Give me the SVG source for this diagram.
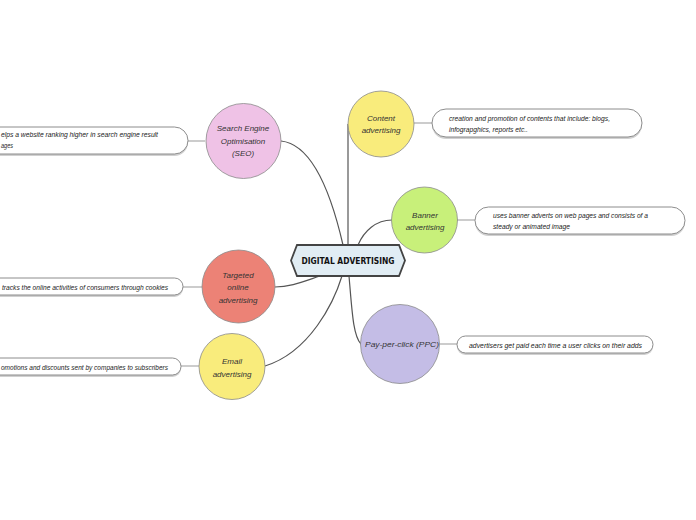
<svg xmlns="http://www.w3.org/2000/svg" width="696" height="520" viewBox="0 0 696 520">
<style>
.bg{fill:#ffffff}
.conn{fill:none;stroke:#555555;stroke-width:1.2}
.sub{fill:none;stroke:#bbbbbb;stroke-width:1.5}
.circ{stroke:#8a8a8a;stroke-width:0.8}
.pill{fill:#ffffff;stroke:#808080;stroke-width:0.9}
.shadow{fill:#d0d0d0}
.lbl{font-family:"Liberation Sans",Arial,sans-serif;font-style:italic;font-size:8px;fill:#333333;text-anchor:middle}
.desc{font-family:"Liberation Sans",Arial,sans-serif;font-style:italic;font-size:7px;fill:#222222}
.title{font-family:"DejaVu Sans","Liberation Sans",sans-serif;font-weight:bold;font-size:8px;fill:#111111;text-anchor:middle}
</style>
<rect class="bg" x="0" y="0" width="696" height="520"/>
<g id="connectors">
<path class="conn" d="M343 245 Q320 145 281 141"/>
<path class="conn" d="M348 245 L348 124"/>
<path class="conn" d="M358 245 C364 231 376 220 392 220"/>
<path class="conn" d="M320 276 C302 282 290 287 275 287"/>
<path class="conn" d="M342 276 C334 302 310 352 265 366"/>
<path class="conn" d="M349 276 C352 310 353 336 361 344"/>
<path class="sub" d="M188 141 L205 141"/>
<path class="sub" d="M414 123 L432 123"/>
<path class="sub" d="M457 220 L475 220"/>
<path class="sub" d="M183 287 L202 287"/>
<path class="sub" d="M440 344 L457 344"/>
<path class="sub" d="M181 366 L199 366"/>
</g>
<g id="center">
<polygon points="291,260.5 297,245 399,245 405,260.5 399,276 297,276" fill="#e1edf4" stroke="#444444" stroke-width="1.8"/>
<text class="title" x="348" y="264" textLength="93" lengthAdjust="spacingAndGlyphs">DIGITAL ADVERTISING</text>
</g>
<g id="seo">
<circle class="circ" cx="243.5" cy="141" r="37.5" fill="#efc2e6"/>
<text class="lbl" x="243" y="131">Search Engine</text>
<text class="lbl" x="243" y="144">Optimisation</text>
<text class="lbl" x="243" y="156">(SEO)</text>
</g>
<g id="seo-desc">
<rect class="shadow" x="-20" y="129" width="208" height="27" rx="13.5"/>
<rect class="pill" x="-20" y="127" width="208" height="27" rx="13.5"/>
<text class="desc" x="1" y="137" textLength="157" lengthAdjust="spacingAndGlyphs">elps a website ranking higher in search engine result</text>
<text class="desc" x="1" y="148" textLength="12" lengthAdjust="spacingAndGlyphs">ages</text>
</g>
<g id="content">
<circle class="circ" cx="381" cy="124" r="33" fill="#f9ec7c"/>
<text class="lbl" x="381" y="121">Content</text>
<text class="lbl" x="381" y="133">advertising</text>
</g>
<g id="content-desc">
<rect class="shadow" x="432" y="111" width="210" height="28" rx="14"/>
<rect class="pill" x="432" y="109" width="210" height="28" rx="14"/>
<text class="desc" x="449" y="120.5" textLength="161" lengthAdjust="spacingAndGlyphs">creation and promotion of contents that include: blogs,</text>
<text class="desc" x="449" y="131.5" textLength="79" lengthAdjust="spacingAndGlyphs">infograpghics, reports etc..</text>
</g>
<g id="banner">
<circle class="circ" cx="424.5" cy="220" r="33" fill="#c8f07a"/>
<text class="lbl" x="425" y="218">Banner</text>
<text class="lbl" x="425" y="230">advertising</text>
</g>
<g id="banner-desc">
<rect class="shadow" x="475" y="209" width="210" height="27" rx="13.5"/>
<rect class="pill" x="475" y="207" width="210" height="27" rx="13.5"/>
<text class="desc" x="493" y="217.5" textLength="155" lengthAdjust="spacingAndGlyphs">uses banner adverts on web pages and consists of a</text>
<text class="desc" x="493" y="228.5" textLength="77" lengthAdjust="spacingAndGlyphs">steady or animated image</text>
</g>
<g id="targeted">
<circle class="circ" cx="238.5" cy="286.5" r="36.5" fill="#ec8276"/>
<text class="lbl" x="238" y="278">Targeted</text>
<text class="lbl" x="238" y="290">online</text>
<text class="lbl" x="238" y="303">advertising</text>
</g>
<g id="targeted-desc">
<rect class="shadow" x="-20" y="280" width="203" height="17" rx="8.5"/>
<rect class="pill" x="-20" y="278" width="203" height="17" rx="8.5"/>
<text class="desc" x="2" y="289.5" textLength="166" lengthAdjust="spacingAndGlyphs">tracks the online activities of consumers through cookies</text>
</g>
<g id="ppc">
<circle class="circ" cx="400" cy="344" r="39.5" fill="#c4bde6"/>
<text class="lbl" x="402" y="347" textLength="74" lengthAdjust="spacingAndGlyphs">Pay-per-click (PPC)</text>
</g>
<g id="ppc-desc">
<rect class="shadow" x="457" y="338" width="196" height="17" rx="8.5"/>
<rect class="pill" x="457" y="336" width="196" height="17" rx="8.5"/>
<text class="desc" x="469" y="347.5" textLength="173" lengthAdjust="spacingAndGlyphs">advertisers get paid each time a user clicks on their adds</text>
</g>
<g id="email">
<circle class="circ" cx="232" cy="366.5" r="33" fill="#f9ec7c"/>
<text class="lbl" x="232" y="364">Email</text>
<text class="lbl" x="232" y="377">advertising</text>
</g>
<g id="email-desc">
<rect class="shadow" x="-20" y="360" width="201" height="17" rx="8.5"/>
<rect class="pill" x="-20" y="358" width="201" height="17" rx="8.5"/>
<text class="desc" x="1" y="369.5" textLength="167" lengthAdjust="spacingAndGlyphs">omotions and discounts sent by companies to subscribers</text>
</g>
</svg>
